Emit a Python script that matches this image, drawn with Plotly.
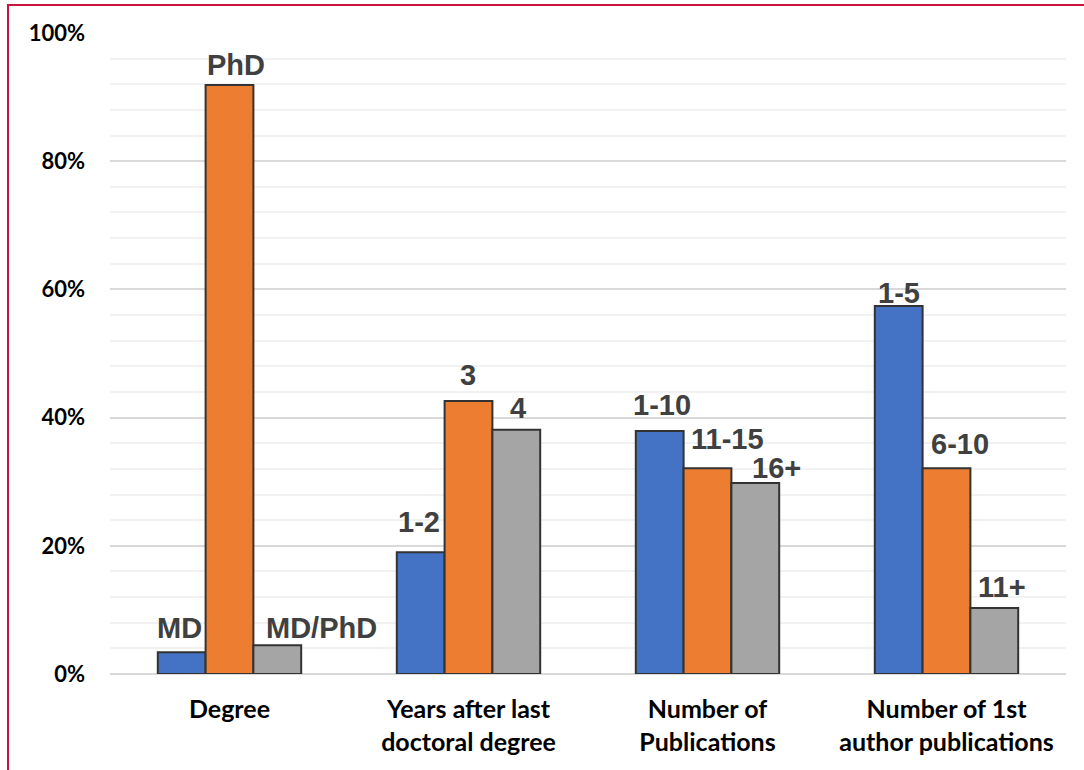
import plotly.graph_objects as go

categories = ["Degree", "Years after last<br>doctoral degree", "Number of<br>Publications",
              "Number of 1st<br>author publications"]
series_a = [0.034, 0.190, 0.379, 0.574]
series_b = [0.919, 0.426, 0.321, 0.321]
series_c = [0.045, 0.381, 0.298, 0.103]
labels_a = ["MD", "1-2", "1-10", "1-5"]
labels_b = ["PhD", "3", "11-15", "6-10"]
labels_c = ["MD/PhD", "4", "16+", "11+"]

colors = ["#4472C4", "#ED7D31", "#A5A5A5"]
# label offsets in pixels (xshift, yshift) - styling only
shifts_a = [(-2, 24), (-2, 30), (2, 26), (0, 13)]
shifts_b = [(6, 20), (-1, 26), (20, 29), (13, 24)]
shifts_c = [(44, 17), (2, 22), (21, 15), (8, 21)]

fig = go.Figure()
for vals, col in zip([series_a, series_b, series_c], colors):
    fig.add_trace(go.Bar(x=categories, y=vals, marker=dict(color=col, line=dict(color="#333333", width=2)),
                         showlegend=False, hoverinfo="skip"))

bargap = 0.4
bw = (1 - bargap) / 3
annotations = []
for k, (vals, labs, shifts) in enumerate([(series_a, labels_a, shifts_a), (series_b, labels_b, shifts_b),
                                          (series_c, labels_c, shifts_c)]):
    for i, (v, lab, (dx, dy)) in enumerate(zip(vals, labs, shifts)):
        annotations.append(dict(x=i + (k - 1) * bw, y=v, xref="x", yref="y", text=lab, showarrow=False,
                                xanchor="center", yanchor="middle", xshift=dx, yshift=dy,
                                font=dict(family="Liberation Sans", size=29, color="#404040", weight="bold")))

W, H = 1084, 770
L, R, T, B = 110, 18, 33, 96
pw, ph = W - L - R, H - T - B
def px_x(p):
    return (p - L) / pw
def px_y(p):
    return (H - B - p) / ph

shapes = [
    dict(type="line", xref="paper", yref="paper", x0=px_x(8), x1=px_x(8), y0=px_y(H), y1=px_y(4),
         line=dict(color="#C8143F", width=2)),
    dict(type="line", xref="paper", yref="paper", x0=px_x(7), x1=px_x(W), y0=px_y(5), y1=px_y(5),
         line=dict(color="#C8143F", width=2)),
]

fig.update_layout(
    width=W, height=H, margin=dict(l=L, r=R, t=T, b=B),
    paper_bgcolor="white", plot_bgcolor="white",
    barmode="group", bargap=bargap, bargroupgap=0,
    annotations=annotations, shapes=shapes,
    xaxis=dict(showline=False, ticks="", tickfont=dict(family="Lato", size=25, color="black", weight="bold"),
               ticklabelstandoff=18, fixedrange=True),
    yaxis=dict(range=[0, 1.0], dtick=0.2, tickformat=".0%", showgrid=True, gridcolor="#D9D9D9", gridwidth=2,
               zeroline=True, zerolinecolor="#D9D9D9", zerolinewidth=2,
               minor=dict(dtick=0.04, showgrid=True, gridcolor="#F2F2F2", gridwidth=2),
               tickfont=dict(family="Lato", size=22, color="black", weight="bold"),
               ticklabelstandoff=24, fixedrange=True),
)
fig.write_html("out.html", config={"displayModeBar": False},
               post_script="document.body.style.margin='0px';")
